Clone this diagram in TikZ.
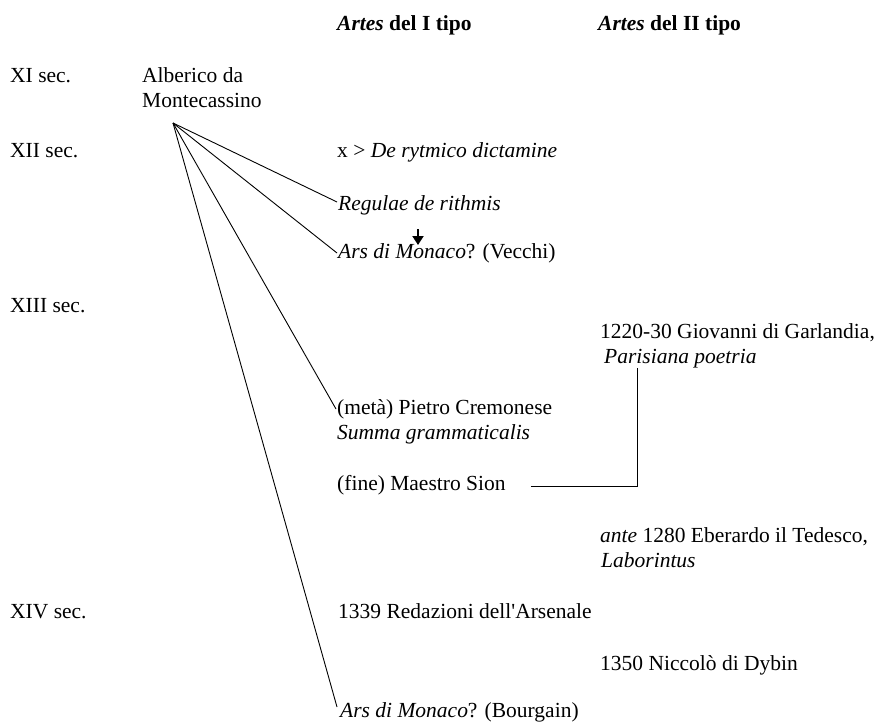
\documentclass[tikz,border=0pt]{standalone}
\usepackage{fontspec}
\setmainfont{Liberation Serif}
\usetikzlibrary{arrows.meta,calc}
\begin{document}
\begin{tikzpicture}[x=1pt,y=-1pt,
  txt/.style={anchor=base west,inner sep=0pt,font=\fontsize{21.5}{25}\selectfont,align=left},
  conn/.style={draw=black,line width=0.9pt},
  bigarrow/.style={line width=2pt,-{Triangle[width=11pt,length=9pt]}}]
\useasboundingbox (0,0) rectangle (885,722);
% headers
\node[txt] (h1) at (337,31) {\textbf{\textit{Artes} del I tipo}};
\node[txt] (h2) at (598,31) {\textbf{\textit{Artes} del II tipo}};
% centuries
\node[txt] (c11) at (10,83) {XI sec.};
\node[txt] (c12) at (10,158) {XII sec.};
\node[txt] (c13) at (10,312) {XIII sec.};
\node[txt] (c14) at (10,618) {XIV sec.};
% Alberico (base anchor = last line)
\node[txt] (alb) at (142,108) {Alberico da\\Montecassino};
\coordinate (apex) at (173,123);
% first type
\node[txt] (derit) at (337,158) {x > \textit{De rytmico dictamine}};
\node[txt] (reg) at (338,210) {\textit{Regulae de rithmis}};
\node[txt] (arsv) at (338,258) {\textit{Ars di Monaco}? (Vecchi)};
\node[txt] (pietro) at (337,439) {(metà) Pietro Cremonese\\\textit{Summa grammaticalis}};
\node[txt] (sion) at (337,490) {(fine) Maestro Sion};
\node[txt] (arsenale) at (338,618) {1339 Redazioni dell\textquotesingle Arsenale};
\node[txt] (arsb) at (340,717) {\textit{Ars di Monaco}? (Bourgain)};
% second type
\node[txt] (garl) at (600,363) {1220-30 Giovanni di Garlandia,\\\hspace*{4pt}\textit{Parisiana poetria}};
\node[txt] (eber) at (600,567) {\textit{ante} 1280 Eberardo il Tedesco,\\\hspace*{1pt}\textit{Laborintus}};
\node[txt] (dybin) at (600,670) {1350 Niccolò di Dybin};
% connectors from Alberico
\draw[conn] (apex) -- ($(reg.base west)+(-1,-8)$);
\draw[conn] (apex) -- ($(arsv.base west)+(-1,-5)$);
\draw[conn] (apex) -- ($(pietro.base west)+(-1,-30)$);
\draw[conn] (apex) -- ($(arsb.base west)+(-3,-10)$);
% Sion to Garlandia
\coordinate (corner) at (637,486);
\draw[conn] ($(sion.base east)+(25,-4)$) -- (corner) -- (corner |- garl.south);
% arrow
\coordinate (atop) at (418,229);
\coordinate (abot) at (418,245);
\draw[bigarrow] (atop) -- (abot);
\end{tikzpicture}
\end{document}
